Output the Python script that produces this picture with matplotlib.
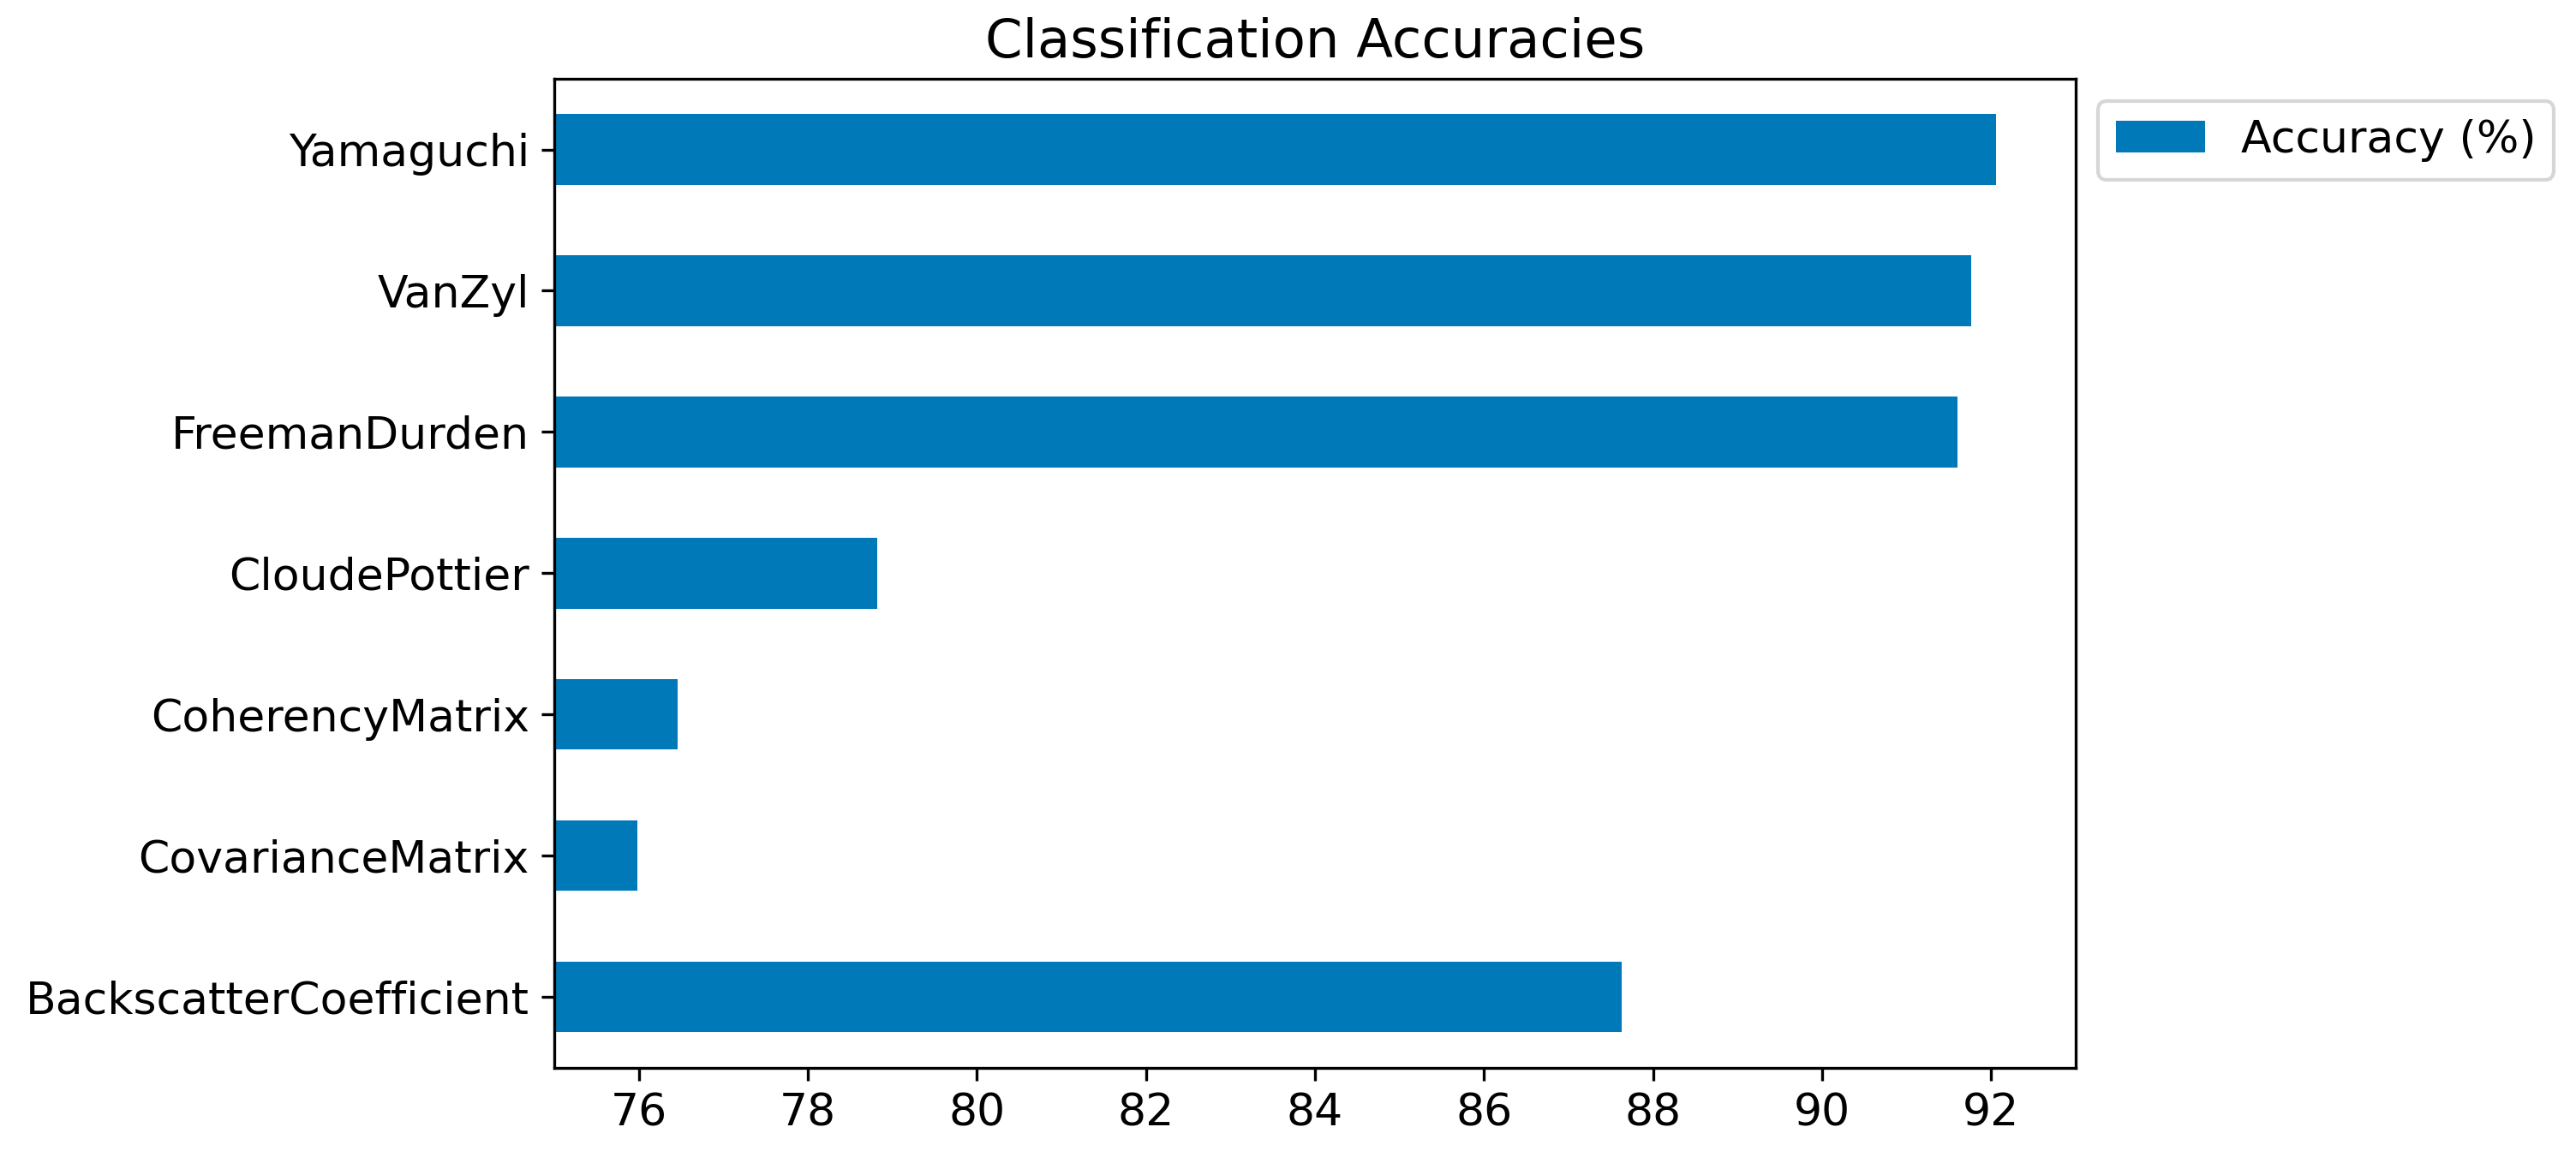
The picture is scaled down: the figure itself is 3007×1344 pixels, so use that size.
import matplotlib
matplotlib.use('Agg')
import matplotlib.pyplot as plt

methods = ['BackscatterCoefficient', 'CovarianceMatrix', 'CoherencyMatrix',
           'CloudePottier', 'FreemanDurden', 'VanZyl', 'Yamaguchi']
accuracy = [87.63, 75.98, 76.46, 78.82, 91.6, 91.76, 92.06]

bar_color = '#0079b8'

plt.rcParams['font.size'] = 12.5

fig = plt.figure(figsize=(3007 / 300, 1344 / 300), dpi=300)
ax = fig.add_axes([0.2152, 0.0725, 0.5906, 0.859])

ax.barh(range(len(methods)), accuracy, height=0.5, color=bar_color, label='Accuracy (%)')
ax.set_yticks(range(len(methods)))
ax.set_yticklabels(methods)
ax.set_ylim(-0.5, len(methods) - 0.5)
ax.set_xlim(75, 93)
ax.set_xticks(range(76, 93, 2))
ax.set_title('Classification Accuracies', fontsize=15)
ax.legend(loc='upper left', bbox_to_anchor=(1, 1))

fig.savefig('out.png', dpi=300)
